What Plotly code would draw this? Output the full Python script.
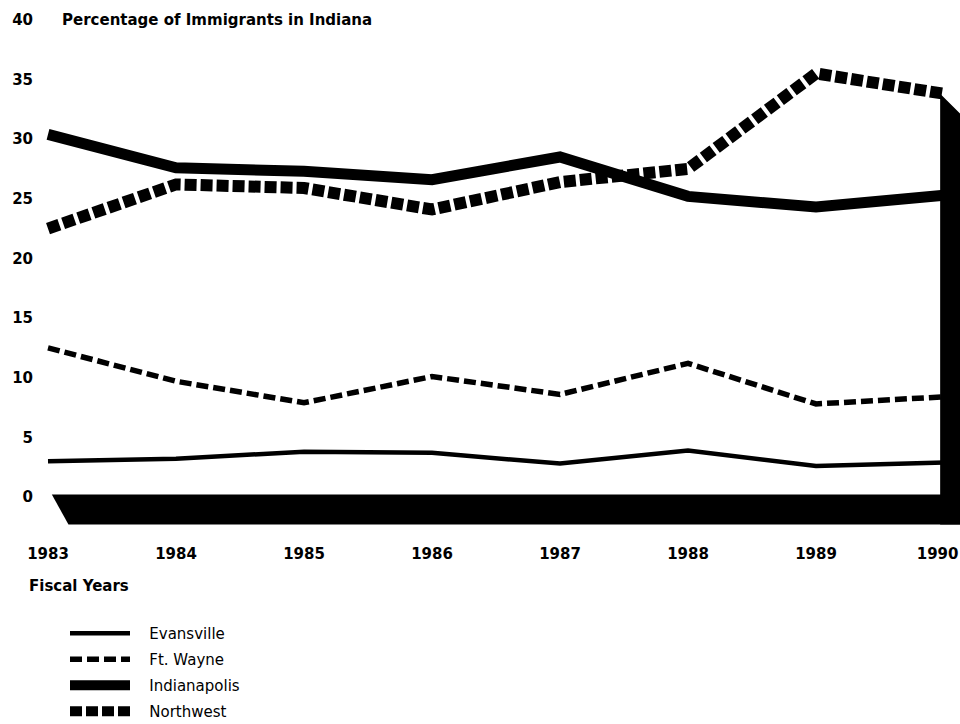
import plotly.graph_objects as go

# ---- data ----
years = [1983, 1984, 1985, 1986, 1987, 1988, 1989, 1990]
year_labels = ["1983", "1984", "1985", "1986", "1987", "1988", "1989", "1990"]
evansville = [3.0, 3.2, 3.8, 3.7, 2.8, 3.9, 2.6, 2.9]
ft_wayne = [12.5, 9.7, 7.9, 10.1, 8.6, 11.2, 7.8, 8.4]
indianapolis = [30.4, 27.6, 27.3, 26.6, 28.5, 25.2, 24.3, 25.3]
northwest = [22.5, 26.2, 25.9, 24.1, 26.4, 27.5, 35.5, 33.8]
y_ticks = [0, 5, 10, 15, 20, 25, 30, 35, 40]
title_text = "Percentage of Immigrants in Indiana"
x_title = "Fiscal Years"

BOLD = dict(family="DejaVu Sans", size=15, color="black", weight="bold")

W, H = 960, 724

fig = go.Figure()

series = [
    ("Evansville", evansville, dict(color="black", width=4.5, dash="solid")),
    ("Ft. Wayne", ft_wayne, dict(color="black", width=5.5, dash="12px,5px")),
    ("Indianapolis", indianapolis, dict(color="black", width=11, dash="solid")),
    ("Northwest", northwest, dict(color="black", width=12, dash="12px,4px")),
]
for i, (name, vals, line) in enumerate(series):
    fig.add_trace(go.Scatter(
        x=years, y=vals, mode="lines", name="\u00a0\u00a0\u00a0" + name,
        line=line, legendgroup=f"g{i}", hoverinfo="skip",
    ))

# 3D-style floor and right wall derived from the data range
x_first, x_last = years[0], years[-1]
floor_top, floor_bottom = 0.2, -2.3
fig.add_shape(type="path", xref="x", yref="y", layer="above",
              path=(f"M {x_first + 0.03},{floor_top} L {x_last + 0.5},{floor_top} "
                    f"L {x_last + 0.5},{floor_bottom} L {x_first + 0.16},{floor_bottom} Z"),
              fillcolor="black", line=dict(width=0))
fig.add_shape(type="path", xref="x", yref="y", layer="above",
              path=(f"M {x_last - 0.03},{northwest[-1]} L {x_last + 0.13},{northwest[-1] - 1.7} "
                    f"L {x_last + 0.5},{northwest[-1] - 1.7} L {x_last + 0.5},{floor_bottom} "
                    f"L {x_last - 0.03},{floor_bottom} Z"),
              fillcolor="black", line=dict(width=0))

L = 34
plot_bottom = 543
B = H - plot_bottom
plot_h = H - B
px_per_year = 128.0
px_per_unit = 11.93
x0 = 1983 - (48 - L) / px_per_year
x1 = x0 + (W - L) / px_per_year
zero_y = 497
y_top = zero_y / px_per_unit
y_bot = -(plot_h - zero_y) / px_per_unit

# last year label sits against the right edge, nudged inward as in the original
last_label_nudge = 0.05
tick_positions = years[:-1] + [years[-1] - last_label_nudge]

fig.update_layout(
    width=W, height=H,
    margin=dict(l=L, r=0, t=0, b=B, autoexpand=False),
    paper_bgcolor="white", plot_bgcolor="white",
    showlegend=True,
    legend=dict(
        xref="container", yref="container",
        x=65 / W, y=1 - 617 / H,
        xanchor="left", yanchor="top",
        itemwidth=60, tracegroupgap=3.5,
        font=dict(family="DejaVu Sans", size=15, color="black"),
        bgcolor="rgba(0,0,0,0)",
    ),
    title=dict(text=title_text, x=62 / W, xanchor="left", xref="container",
               y=1 - 20 / H, yanchor="middle", yref="container",
               font=BOLD),
    xaxis=dict(range=[x0, x1], tickvals=tick_positions, ticktext=year_labels,
               showgrid=False, zeroline=False, showline=False, ticks="",
               tickfont=BOLD, fixedrange=True, automargin=False,
               ticklabeloverflow="allow"),
    yaxis=dict(range=[y_bot, y_top], tickvals=y_ticks,
               showgrid=False, zeroline=False, showline=False, ticks="",
               tickfont=BOLD, fixedrange=True, automargin=False,
               ticklabeloverflow="allow"),
    annotations=[dict(text=x_title, xref="paper", yref="paper",
                      x=(27 - L) / (W - L), y=(plot_h - 586) / plot_h,
                      xanchor="left", yanchor="middle", showarrow=False,
                      font=BOLD)],
)

fig.write_html(
    "out.html",
    config={"displayModeBar": False},
    post_script="document.body.style.margin='0';document.body.style.overflow='hidden';"
                "document.documentElement.style.overflow='hidden';",
)
